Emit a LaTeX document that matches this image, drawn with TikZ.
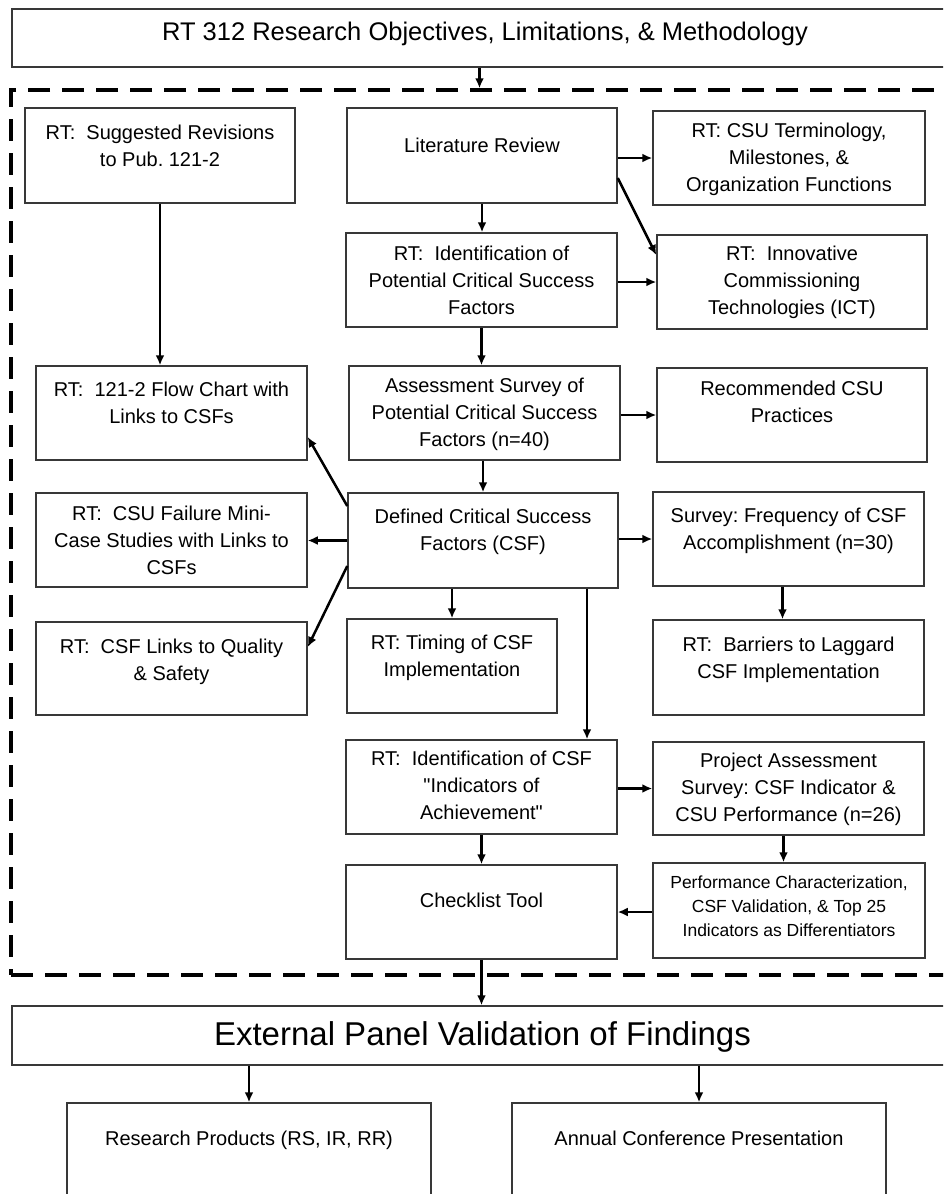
\documentclass[tikz,border=0pt]{standalone}
\usepackage{fontspec}
\setmainfont{Liberation Sans}
\newfontfamily\plainquote{Liberation Sans}[Ligatures=ResetAll]
\usetikzlibrary{arrows.meta,fit,calc}
\newcommand\dq{{\plainquote\symbol{34}}}
\tikzset{
  box/.style={draw=black!78, line width=1.5pt, inner sep=0pt, fill=white},
  frame/.style={draw=black, line width=3.5pt, dash pattern=on 22pt off 12pt, inner sep=0pt},
  lbl/.style={anchor=north, inner sep=0pt, align=center, font=\frenchspacing\fontsize{20}{27}\selectfont},
  arr/.style={-{Latex[length=10pt,width=9pt]}, line width=2.5pt, black},
}
\begin{document}
\begin{tikzpicture}[x=1pt,y=-1pt]
\useasboundingbox (0,0) rectangle (943,1194);
\clip (0,0) rectangle (943,1194);
\fill[white] (0,0) rectangle (943,1194);

% dashed frame around the research tasks
\node[frame, fit={(11,90) (965,975)}] (frame) {};

% header
\node[box, fit={(12,9) (965,67)}] (top) {};
\node[lbl, font=\frenchspacing\fontsize{25.5}{30}\selectfont] (topT) at (485,21.5) {RT 312 Research Objectives, Limitations, \& Methodology};

% left column
\node[box, fit={(25,108) (295,203)}] (L1) {};
\node[lbl] (L1t) at (160,124.4) {RT:\ \ Suggested Revisions\\to Pub. 121-2};
\node[box, fit={(36,366) (307,460)}] (L2) {};
\node[lbl] (L2t) at (171.5,381.4) {RT:\ \ 121-2 Flow Chart with\\Links to CSFs};
\node[box, fit={(36,493) (307,587)}] (L3) {};
\node[lbl] (L3t) at (171.5,505.4) {RT:\ \ CSU Failure Mini-\\Case Studies with Links to\\CSFs};
\node[box, fit={(36,622) (307,715)}] (L4) {};
\node[lbl] (L4t) at (171.5,638.4) {RT:\ \ CSF Links to Quality\\\& Safety};

% middle column
\node[box, fit={(347,108) (617,203)}] (M1) {};
\node[lbl] (M1t) at (482,137.4) {Literature Review};
\node[box, fit={(346,233) (617,327)}] (M2) {};
\node[lbl] (M2t) at (481.5,245.4) {RT:\ \ Identification of\\Potential Critical Success\\Factors};
\node[box, fit={(349,366) (620,460)}] (M3) {};
\node[lbl] (M3t) at (484.5,377.4) {Assessment Survey of\\Potential Critical Success\\Factors (n=40)};
\node[box, fit={(348,493) (618,588)}] (M4) {};
\node[lbl] (M4t) at (483,508.4) {Defined Critical Success\\Factors (CSF)};
\node[box, fit={(347,619) (557,713)}] (M5) {};
\node[lbl] (M5t) at (452,634.4) {RT: Timing of CSF\\Implementation};
\node[box, fit={(346,740) (617,834)}] (M6) {};
\node[lbl] (M6t) at (481.5,750.4) {RT:\ \ Identification of CSF\\\dq Indicators of\\Achievement\dq};
\node[box, fit={(346,865) (617,959)}] (M7) {};
\node[lbl] (M7t) at (481.5,892.4) {Checklist Tool};

% right column
\node[box, fit={(653,111) (925,205)}] (R1) {};
\node[lbl] (R1t) at (789,122.4) {RT: CSU Terminology,\\Milestones, \&\\Organization Functions};
\node[box, fit={(657,235) (927,329)}] (R2) {};
\node[lbl] (R2t) at (792,245.4) {RT:\ \ Innovative\\Commissioning\\Technologies (ICT)};
\node[box, fit={(657,368) (927,462)}] (R3) {};
\node[lbl] (R3t) at (792,380.4) {Recommended CSU\\Practices};
\node[box, fit={(653,492) (924,586)}] (R4) {};
\node[lbl] (R4t) at (788.5,507.4) {Survey: Frequency of CSF\\Accomplishment (n=30)};
\node[box, fit={(653,620) (924,715)}] (R5) {};
\node[lbl] (R5t) at (788.5,636.4) {RT:\ \ Barriers to Laggard\\CSF Implementation};
\node[box, fit={(653,742) (924,835)}] (R6) {};
\node[lbl] (R6t) at (788.5,752.4) {Project Assessment\\Survey: CSF Indicator \&\\CSU Performance (n=26)};
\node[box, fit={(653,863) (925,958)}] (R7) {};
\node[lbl, font=\frenchspacing\fontsize{17.5}{24}\selectfont] (R7t) at (789,875.5) {Performance Characterization,\\CSF Validation, \& Top 25\\Indicators as Differentiators};

% validation and products
\node[box, fit={(12,1006) (965,1065)}] (ext) {};
\node[lbl, font=\frenchspacing\fontsize{33}{38}\selectfont] (extT) at (482.5,1021.5) {External Panel Validation of Findings};
\node[box, fit={(67,1103) (431,1215)}] (B1) {};
\node[lbl, font=\frenchspacing\fontsize{20}{25}\selectfont] (B1t) at (249,1130.5) {Research Products (RS, IR, RR)};
\node[box, fit={(512,1103) (886,1215)}] (B2) {};
\node[lbl, font=\frenchspacing\fontsize{20}{25}\selectfont] (B2t) at (699,1130.5) {Annual Conference Presentation};

% connectors
\draw[arr] ([xshift=-9pt]top.south) -- ([xshift=-9pt]top.south |- frame.north);
\draw[arr] (L1.south) -- (L1.south |- L2.north);
\draw[arr] (M1.south) -- (M1.south |- M2.north);
\draw[arr] (M1.east |- R1.west) -- (R1.west);
\draw[arr] ([yshift=-22.5pt]M1.east) -- ([yshift=27pt]R2.west);
\draw[arr] (M2.east |- R2.west) -- (R2.west);
\draw[arr] (M2.south) -- (M2.south |- M3.north);
\draw[arr] (M3.east |- R3.west) -- (R3.west);
\draw[arr] (M4.north |- M3.south) -- (M4.north);
\draw[arr] ([yshift=34.5pt]M4.west) -- ([yshift=-24pt]L2.east);
\draw[arr] (M4.west) -- (M4.west -| L3.east);
\draw[arr] ([yshift=-25.5pt]M4.west) -- ([yshift=21.5pt]L4.east);
\draw[arr] (M4.east |- R4.west) -- (R4.west);
\draw[arr] (M5.north |- M4.south) -- (M5.north);
\draw[arr] ([xshift=104pt]M4.south) -- ([xshift=104pt]M4.south |- M6.north);
\draw[arr] ([xshift=-6pt]R4.south) -- ([xshift=-6pt]R4.south |- R5.north);
\draw[arr] (M6.east |- R6.west) -- (R6.west);
\draw[arr] ([xshift=-5pt]R6.south) -- ([xshift=-5pt]R6.south |- R7.north);
\draw[arr] (M6.south) -- (M6.south |- M7.north);
\draw[arr] (R7.west |- M7.east) -- (M7.east);
\draw[arr] (M7.south) -- (M7.south |- ext.north);
\draw[arr] (B1.north |- ext.south) -- (B1.north);
\draw[arr] (B2.north |- ext.south) -- (B2.north);
\end{tikzpicture}
\end{document}
